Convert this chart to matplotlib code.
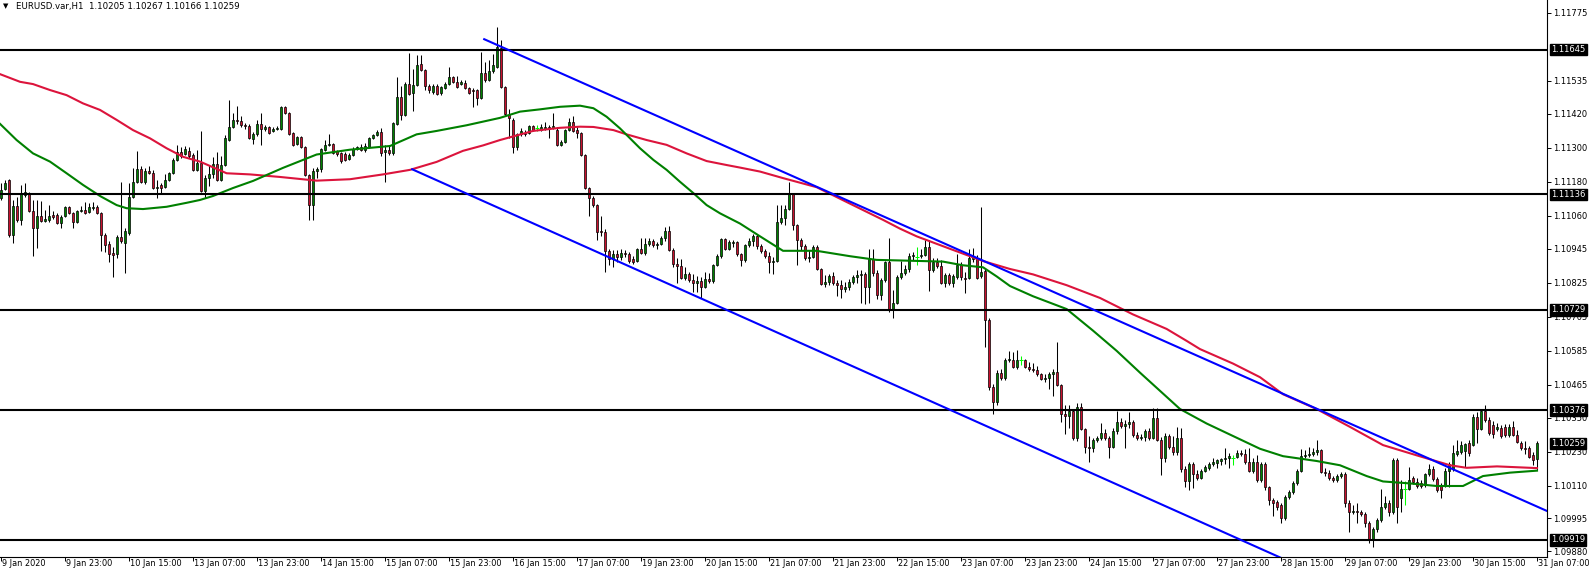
import numpy as np
import matplotlib
matplotlib.use("Agg")
import matplotlib.pyplot as plt
from matplotlib.transforms import blended_transform_factory, offset_copy

# EURUSD H1 candles (9 Jan 2020 00:00 .. 31 Jan 07:00)
symbol = "EURUSD.var,H1"

opens = [
    1.11123, 1.11155, 1.11186, 1.10993, 1.11095, 1.11046, 1.11134, 1.11141, 1.11077, 1.11017,
    1.11060, 1.11042, 1.11046, 1.11063, 1.11063, 1.11035, 1.11060, 1.11091, 1.11070, 1.11039,
    1.11077, 1.11081, 1.11074, 1.11088, 1.11091, 1.11070, 1.10993, 1.10961, 1.10929, 1.10926,
    1.10986, 1.10965, 1.11000, 1.11127, 1.11179, 1.11225, 1.11179, 1.11218, 1.11211, 1.11158,
    1.11169, 1.11162, 1.11186, 1.11211, 1.11257, 1.11285, 1.11278, 1.11288, 1.11274, 1.11222,
    1.11246, 1.11148, 1.11193, 1.11208, 1.11243, 1.11186, 1.11239, 1.11327, 1.11373, 1.11398,
    1.11394, 1.11380, 1.11376, 1.11331, 1.11348, 1.11384, 1.11366, 1.11373, 1.11359, 1.11366,
    1.11366, 1.11443, 1.11422, 1.11352, 1.11313, 1.11338, 1.11303, 1.11204, 1.11098, 1.11218,
    1.11225, 1.11292, 1.11310, 1.11313, 1.11288, 1.11281, 1.11278, 1.11260, 1.11274, 1.11296,
    1.11303, 1.11292, 1.11303, 1.11334, 1.11345, 1.11355, 1.11285, 1.11292, 1.11281, 1.11384,
    1.11479, 1.11415, 1.11524, 1.11493, 1.11521, 1.11595, 1.11574, 1.11517, 1.11496, 1.11517,
    1.11493, 1.11510, 1.11524, 1.11549, 1.11531, 1.11524, 1.11528, 1.11510, 1.11503, 1.11503,
    1.11475, 1.11563, 1.11538, 1.11570, 1.11584, 1.11651, 1.11514, 1.11415, 1.11398, 1.11303,
    1.11348, 1.11352, 1.11352, 1.11376, 1.11369, 1.11362, 1.11366, 1.11373, 1.11369, 1.11362,
    1.11310, 1.11320, 1.11362, 1.11391, 1.11362, 1.11352, 1.11274, 1.11158, 1.11123, 1.11098,
    1.11007, 1.11003, 1.10936, 1.10908, 1.10926, 1.10915, 1.10929, 1.10926, 1.10908, 1.10901,
    1.10944, 1.10929, 1.10961, 1.10972, 1.10958, 1.10961, 1.10982, 1.11007, 1.10940, 1.10891,
    1.10884, 1.10841, 1.10856, 1.10834, 1.10824, 1.10831, 1.10810, 1.10838, 1.10831, 1.10887,
    1.10919, 1.10979, 1.10944, 1.10965, 1.10968, 1.10926, 1.10905, 1.10958, 1.10972, 1.10989,
    1.10954, 1.10936, 1.10919, 1.10898, 1.10901, 1.11039, 1.11053, 1.11084, 1.11137, 1.11028,
    1.10975, 1.10954, 1.10912, 1.10915, 1.10951, 1.10873, 1.10820, 1.10827, 1.10848, 1.10824,
    1.10817, 1.10803, 1.10810, 1.10827, 1.10845, 1.10852, 1.10856, 1.10810, 1.10908, 1.10859,
    1.10782, 1.10834, 1.10898, 1.10732, 1.10753, 1.10845, 1.10859, 1.10873, 1.10919, 1.10915,
    1.10919, 1.10922, 1.10951, 1.10870, 1.10898, 1.10884, 1.10824, 1.10852, 1.10824, 1.10845,
    1.10887, 1.10841, 1.10841, 1.10908, 1.10912, 1.10848, 1.10866, 1.10694, 1.10458, 1.10405,
    1.10507, 1.10489, 1.10553, 1.10553, 1.10528, 1.10553, 1.10553, 1.10528, 1.10521, 1.10518,
    1.10504, 1.10486, 1.10489, 1.10504, 1.10511, 1.10465, 1.10363, 1.10356, 1.10373, 1.10278,
    1.10387, 1.10310, 1.10247, 1.10243, 1.10271, 1.10278, 1.10296, 1.10278, 1.10247, 1.10303,
    1.10335, 1.10320, 1.10328, 1.10335, 1.10289, 1.10278, 1.10282, 1.10303, 1.10278, 1.10349,
    1.10271, 1.10208, 1.10285, 1.10247, 1.10229, 1.10278, 1.10169, 1.10127, 1.10187, 1.10152,
    1.10137, 1.10162, 1.10173, 1.10187, 1.10190, 1.10197, 1.10204, 1.10208, 1.10208, 1.10211,
    1.10225, 1.10222, 1.10194, 1.10162, 1.10194, 1.10130, 1.10187, 1.10106, 1.10060, 1.10053,
    1.10042, 1.09997, 1.10071, 1.10088, 1.10120, 1.10162, 1.10215, 1.10218, 1.10222, 1.10229,
    1.10236, 1.10159, 1.10155, 1.10137, 1.10130, 1.10145, 1.10152, 1.10049, 1.10018, 1.10021,
    1.10018, 1.10011, 1.09979, 1.09919, 1.09958, 1.09990, 1.10035, 1.10049, 1.10018, 1.10201,
    1.10067, 1.10099, 1.10099, 1.10137, 1.10123, 1.10120, 1.10113, 1.10152, 1.10169, 1.10134,
    1.10113, 1.10113, 1.10162, 1.10169, 1.10222, 1.10229, 1.10232, 1.10261, 1.10254, 1.10352,
    1.10310, 1.10373, 1.10342, 1.10324, 1.10310, 1.10313, 1.10317, 1.10289, 1.10317, 1.10289,
    1.10261, 1.10243, 1.10243, 1.10218, 1.10205,
]
highs = [
    1.11176, 1.11186, 1.11190, 1.11116, 1.11127, 1.11169, 1.11176, 1.11144, 1.11116, 1.11116,
    1.11112, 1.11081, 1.11098, 1.11077, 1.11070, 1.11063, 1.11095, 1.11095, 1.11074, 1.11081,
    1.11095, 1.11109, 1.11105, 1.11109, 1.11098, 1.11074, 1.11000, 1.10972, 1.10951, 1.10993,
    1.11179, 1.11017, 1.11176, 1.11229, 1.11288, 1.11236, 1.11229, 1.11236, 1.11222, 1.11186,
    1.11176, 1.11208, 1.11215, 1.11264, 1.11310, 1.11303, 1.11306, 1.11303, 1.11281, 1.11292,
    1.11359, 1.11204, 1.11239, 1.11267, 1.11285, 1.11271, 1.11345, 1.11468, 1.11422, 1.11447,
    1.11412, 1.11387, 1.11384, 1.11355, 1.11398, 1.11422, 1.11380, 1.11376, 1.11373, 1.11376,
    1.11447, 1.11447, 1.11426, 1.11355, 1.11341, 1.11341, 1.11306, 1.11208, 1.11229, 1.11232,
    1.11299, 1.11327, 1.11348, 1.11317, 1.11292, 1.11285, 1.11285, 1.11281, 1.11303, 1.11306,
    1.11313, 1.11317, 1.11338, 1.11348, 1.11362, 1.11369, 1.11310, 1.11306, 1.11391, 1.11549,
    1.11517, 1.11531, 1.11633, 1.11577, 1.11626, 1.11626, 1.11577, 1.11524, 1.11524, 1.11524,
    1.11517, 1.11531, 1.11584, 1.11552, 1.11552, 1.11538, 1.11538, 1.11514, 1.11510, 1.11507,
    1.11637, 1.11602, 1.11609, 1.11630, 1.11725, 1.11679, 1.11517, 1.11436, 1.11405, 1.11352,
    1.11369, 1.11362, 1.11380, 1.11380, 1.11380, 1.11384, 1.11391, 1.11380, 1.11422, 1.11373,
    1.11327, 1.11366, 1.11405, 1.11412, 1.11373, 1.11355, 1.11278, 1.11162, 1.11130, 1.11102,
    1.11060, 1.11014, 1.10944, 1.10940, 1.10940, 1.10944, 1.10940, 1.10933, 1.10919, 1.10947,
    1.10982, 1.10982, 1.10982, 1.10979, 1.10968, 1.10989, 1.11021, 1.11024, 1.10947, 1.10912,
    1.10908, 1.10880, 1.10863, 1.10856, 1.10849, 1.10845, 1.10863, 1.10859, 1.10891, 1.10926,
    1.10982, 1.10982, 1.10975, 1.10975, 1.10972, 1.10929, 1.10961, 1.10982, 1.10996, 1.10996,
    1.10961, 1.10944, 1.10933, 1.10915, 1.11098, 1.11098, 1.11098, 1.11179, 1.11141, 1.11032,
    1.10982, 1.10961, 1.10940, 1.10958, 1.10958, 1.10877, 1.10852, 1.10856, 1.10863, 1.10834,
    1.10834, 1.10827, 1.10838, 1.10852, 1.10870, 1.10870, 1.10863, 1.10944, 1.10944, 1.10870,
    1.10841, 1.10901, 1.10982, 1.10799, 1.10852, 1.10901, 1.10887, 1.10929, 1.10933, 1.10951,
    1.10944, 1.10975, 1.10975, 1.10912, 1.10912, 1.10905, 1.10859, 1.10859, 1.10856, 1.10926,
    1.10898, 1.10863, 1.10944, 1.10947, 1.10922, 1.11091, 1.10877, 1.10701, 1.10468, 1.10518,
    1.10521, 1.10560, 1.10585, 1.10581, 1.10588, 1.10567, 1.10556, 1.10546, 1.10542, 1.10532,
    1.10507, 1.10504, 1.10511, 1.10521, 1.10616, 1.10468, 1.10394, 1.10394, 1.10380, 1.10401,
    1.10401, 1.10313, 1.10285, 1.10278, 1.10285, 1.10331, 1.10310, 1.10285, 1.10313, 1.10373,
    1.10349, 1.10342, 1.10370, 1.10342, 1.10299, 1.10292, 1.10310, 1.10313, 1.10384, 1.10384,
    1.10282, 1.10296, 1.10292, 1.10285, 1.10317, 1.10313, 1.10180, 1.10194, 1.10194, 1.10166,
    1.10169, 1.10183, 1.10194, 1.10208, 1.10204, 1.10208, 1.10243, 1.10225, 1.10218, 1.10236,
    1.10236, 1.10240, 1.10243, 1.10208, 1.10218, 1.10194, 1.10194, 1.10109, 1.10067, 1.10060,
    1.10049, 1.10078, 1.10095, 1.10127, 1.10169, 1.10240, 1.10236, 1.10247, 1.10243, 1.10271,
    1.10240, 1.10173, 1.10166, 1.10145, 1.10152, 1.10159, 1.10159, 1.10060, 1.10042, 1.10049,
    1.10025, 1.10018, 1.09986, 1.09965, 1.09997, 1.10099, 1.10074, 1.10060, 1.10208, 1.10208,
    1.10130, 1.10127, 1.10176, 1.10145, 1.10137, 1.10130, 1.10155, 1.10187, 1.10180, 1.10141,
    1.10120, 1.10173, 1.10194, 1.10254, 1.10271, 1.10268, 1.10261, 1.10271, 1.10363, 1.10370,
    1.10380, 1.10394, 1.10352, 1.10338, 1.10331, 1.10324, 1.10328, 1.10328, 1.10338, 1.10306,
    1.10268, 1.10268, 1.10250, 1.10229, 1.10267,
]
lows = [
    1.11116, 1.11151, 1.10986, 1.10965, 1.11039, 1.11028, 1.11127, 1.11074, 1.10919, 1.10947,
    1.11039, 1.11039, 1.11039, 1.11049, 1.11032, 1.11017, 1.11056, 1.11067, 1.11017, 1.11035,
    1.11074, 1.11067, 1.11070, 1.11081, 1.11067, 1.10936, 1.10933, 1.10898, 1.10845, 1.10912,
    1.10965, 1.10859, 1.10993, 1.11123, 1.11176, 1.11176, 1.11172, 1.11208, 1.11155, 1.11123,
    1.11141, 1.11158, 1.11183, 1.11208, 1.11253, 1.11264, 1.11274, 1.11264, 1.11218, 1.11218,
    1.11144, 1.11123, 1.11165, 1.11193, 1.11183, 1.11183, 1.11236, 1.11324, 1.11369, 1.11384,
    1.11373, 1.11366, 1.11331, 1.11313, 1.11341, 1.11310, 1.11359, 1.11348, 1.11355, 1.11362,
    1.11362, 1.11419, 1.11345, 1.11306, 1.11310, 1.11299, 1.11200, 1.11046, 1.11046, 1.11193,
    1.11215, 1.11288, 1.11306, 1.11278, 1.11271, 1.11246, 1.11253, 1.11257, 1.11271, 1.11292,
    1.11288, 1.11285, 1.11299, 1.11331, 1.11341, 1.11271, 1.11179, 1.11274, 1.11274, 1.11380,
    1.11398, 1.11412, 1.11486, 1.11429, 1.11517, 1.11570, 1.11503, 1.11493, 1.11489, 1.11486,
    1.11486, 1.11507, 1.11521, 1.11528, 1.11510, 1.11521, 1.11507, 1.11489, 1.11443, 1.11450,
    1.11472, 1.11531, 1.11535, 1.11563, 1.11580, 1.11510, 1.11412, 1.11334, 1.11281, 1.11292,
    1.11341, 1.11341, 1.11348, 1.11359, 1.11359, 1.11359, 1.11362, 1.11334, 1.11366, 1.11306,
    1.11306, 1.11317, 1.11359, 1.11355, 1.11334, 1.11271, 1.11155, 1.11060, 1.11091, 1.10975,
    1.10989, 1.10863, 1.10887, 1.10880, 1.10898, 1.10905, 1.10915, 1.10894, 1.10891, 1.10898,
    1.10926, 1.10922, 1.10954, 1.10951, 1.10944, 1.10958, 1.10972, 1.10936, 1.10880, 1.10824,
    1.10838, 1.10834, 1.10827, 1.10792, 1.10792, 1.10771, 1.10806, 1.10824, 1.10824, 1.10884,
    1.10912, 1.10940, 1.10940, 1.10951, 1.10919, 1.10884, 1.10898, 1.10951, 1.10954, 1.10944,
    1.10929, 1.10912, 1.10859, 1.10856, 1.10898, 1.11032, 1.11028, 1.11081, 1.11010, 1.10887,
    1.10940, 1.10905, 1.10898, 1.10912, 1.10870, 1.10817, 1.10810, 1.10817, 1.10817, 1.10778,
    1.10771, 1.10792, 1.10799, 1.10820, 1.10824, 1.10753, 1.10750, 1.10753, 1.10848, 1.10768,
    1.10764, 1.10827, 1.10722, 1.10701, 1.10750, 1.10838, 1.10852, 1.10863, 1.10905, 1.10887,
    1.10912, 1.10919, 1.10796, 1.10863, 1.10877, 1.10820, 1.10810, 1.10817, 1.10810, 1.10838,
    1.10834, 1.10789, 1.10838, 1.10898, 1.10838, 1.10841, 1.10599, 1.10447, 1.10363, 1.10394,
    1.10482, 1.10482, 1.10546, 1.10525, 1.10521, 1.10535, 1.10525, 1.10514, 1.10511, 1.10497,
    1.10482, 1.10475, 1.10451, 1.10426, 1.10461, 1.10335, 1.10292, 1.10313, 1.10271, 1.10268,
    1.10306, 1.10225, 1.10194, 1.10229, 1.10264, 1.10271, 1.10271, 1.10208, 1.10243, 1.10292,
    1.10313, 1.10243, 1.10313, 1.10282, 1.10271, 1.10271, 1.10268, 1.10271, 1.10275, 1.10268,
    1.10148, 1.10194, 1.10240, 1.10218, 1.10218, 1.10159, 1.10106, 1.10095, 1.10102, 1.10130,
    1.10134, 1.10159, 1.10166, 1.10180, 1.10173, 1.10183, 1.10187, 1.10173, 1.10183, 1.10208,
    1.10215, 1.10187, 1.10159, 1.10155, 1.10123, 1.10123, 1.10095, 1.10042, 1.10003, 1.10025,
    1.09979, 1.09990, 1.10064, 1.10081, 1.10113, 1.10159, 1.10208, 1.10211, 1.10215, 1.10218,
    1.10155, 1.10145, 1.10130, 1.10123, 1.10123, 1.10137, 1.10035, 1.09947, 1.10011, 1.09979,
    1.10004, 1.09965, 1.09909, 1.09895, 1.09947, 1.09983, 1.10028, 1.10004, 1.10011, 1.09979,
    1.10018, 1.10042, 1.10095, 1.10116, 1.10102, 1.10102, 1.10106, 1.10145, 1.10127, 1.10088,
    1.10067, 1.10106, 1.10106, 1.10162, 1.10215, 1.10222, 1.10176, 1.10215, 1.10250, 1.10261,
    1.10306, 1.10335, 1.10289, 1.10278, 1.10303, 1.10278, 1.10282, 1.10282, 1.10285, 1.10261,
    1.10236, 1.10222, 1.10208, 1.10183, 1.10166,
]
closes = [
    1.11151, 1.11176, 1.10993, 1.11095, 1.11046, 1.11137, 1.11144, 1.11077, 1.11017, 1.11060,
    1.11042, 1.11049, 1.11060, 1.11056, 1.11035, 1.11056, 1.11091, 1.11070, 1.11039, 1.11077,
    1.11081, 1.11070, 1.11091, 1.11091, 1.11070, 1.10993, 1.10958, 1.10926, 1.10922, 1.10986,
    1.10972, 1.11007, 1.11127, 1.11179, 1.11225, 1.11179, 1.11218, 1.11211, 1.11158, 1.11162,
    1.11158, 1.11186, 1.11211, 1.11257, 1.11285, 1.11271, 1.11296, 1.11271, 1.11222, 1.11246,
    1.11148, 1.11193, 1.11208, 1.11243, 1.11186, 1.11239, 1.11334, 1.11373, 1.11398, 1.11394,
    1.11380, 1.11376, 1.11334, 1.11348, 1.11384, 1.11366, 1.11373, 1.11352, 1.11366, 1.11369,
    1.11443, 1.11422, 1.11348, 1.11310, 1.11338, 1.11303, 1.11204, 1.11098, 1.11218, 1.11225,
    1.11296, 1.11310, 1.11313, 1.11281, 1.11278, 1.11253, 1.11257, 1.11274, 1.11296, 1.11303,
    1.11292, 1.11306, 1.11334, 1.11345, 1.11355, 1.11281, 1.11292, 1.11281, 1.11387, 1.11479,
    1.11415, 1.11524, 1.11489, 1.11521, 1.11591, 1.11574, 1.11517, 1.11503, 1.11517, 1.11489,
    1.11514, 1.11524, 1.11549, 1.11531, 1.11514, 1.11531, 1.11510, 1.11493, 1.11500, 1.11475,
    1.11563, 1.11538, 1.11570, 1.11591, 1.11655, 1.11514, 1.11419, 1.11405, 1.11303, 1.11348,
    1.11359, 1.11348, 1.11376, 1.11362, 1.11369, 1.11373, 1.11373, 1.11366, 1.11376, 1.11310,
    1.11320, 1.11362, 1.11391, 1.11359, 1.11352, 1.11274, 1.11158, 1.11123, 1.11098, 1.11003,
    1.11003, 1.10936, 1.10908, 1.10926, 1.10915, 1.10929, 1.10926, 1.10901, 1.10898, 1.10944,
    1.10929, 1.10961, 1.10972, 1.10958, 1.10961, 1.10982, 1.11007, 1.10940, 1.10891, 1.10884,
    1.10841, 1.10856, 1.10834, 1.10824, 1.10831, 1.10810, 1.10838, 1.10831, 1.10887, 1.10919,
    1.10979, 1.10944, 1.10968, 1.10968, 1.10926, 1.10905, 1.10958, 1.10972, 1.10989, 1.10954,
    1.10936, 1.10919, 1.10898, 1.10901, 1.11039, 1.11053, 1.11084, 1.11137, 1.11028, 1.10975,
    1.10954, 1.10912, 1.10915, 1.10951, 1.10873, 1.10820, 1.10827, 1.10848, 1.10824, 1.10817,
    1.10803, 1.10810, 1.10827, 1.10845, 1.10852, 1.10856, 1.10810, 1.10908, 1.10859, 1.10782,
    1.10834, 1.10898, 1.10732, 1.10753, 1.10845, 1.10859, 1.10873, 1.10919, 1.10922, 1.10915,
    1.10922, 1.10951, 1.10870, 1.10898, 1.10884, 1.10824, 1.10852, 1.10824, 1.10848, 1.10887,
    1.10845, 1.10838, 1.10912, 1.10919, 1.10841, 1.10863, 1.10694, 1.10458, 1.10405, 1.10507,
    1.10489, 1.10553, 1.10556, 1.10528, 1.10553, 1.10553, 1.10528, 1.10521, 1.10518, 1.10504,
    1.10486, 1.10489, 1.10504, 1.10511, 1.10465, 1.10363, 1.10356, 1.10373, 1.10278, 1.10387,
    1.10310, 1.10247, 1.10243, 1.10271, 1.10278, 1.10296, 1.10278, 1.10247, 1.10303, 1.10335,
    1.10320, 1.10328, 1.10335, 1.10289, 1.10278, 1.10282, 1.10303, 1.10278, 1.10349, 1.10271,
    1.10208, 1.10285, 1.10247, 1.10229, 1.10278, 1.10169, 1.10127, 1.10187, 1.10152, 1.10137,
    1.10162, 1.10176, 1.10187, 1.10194, 1.10201, 1.10204, 1.10208, 1.10215, 1.10208, 1.10225,
    1.10222, 1.10194, 1.10162, 1.10194, 1.10130, 1.10187, 1.10106, 1.10060, 1.10049, 1.10035,
    1.09997, 1.10071, 1.10088, 1.10120, 1.10162, 1.10215, 1.10218, 1.10222, 1.10229, 1.10236,
    1.10159, 1.10155, 1.10137, 1.10130, 1.10145, 1.10152, 1.10049, 1.10018, 1.10021, 1.10018,
    1.10011, 1.09979, 1.09919, 1.09958, 1.09990, 1.10035, 1.10049, 1.10018, 1.10201, 1.10035,
    1.10099, 1.10099, 1.10130, 1.10123, 1.10109, 1.10109, 1.10152, 1.10169, 1.10134, 1.10095,
    1.10095, 1.10162, 1.10187, 1.10225, 1.10232, 1.10254, 1.10257, 1.10225, 1.10352, 1.10310,
    1.10373, 1.10342, 1.10296, 1.10292, 1.10317, 1.10285, 1.10289, 1.10317, 1.10289, 1.10264,
    1.10243, 1.10240, 1.10211, 1.10201, 1.10259,
]

# one time label every 16 bars
bars_per_label = 16
time_labels = ["9 Jan 2020", "9 Jan 23:00", "10 Jan 15:00", "13 Jan 07:00", "13 Jan 23:00",
               "14 Jan 15:00", "15 Jan 07:00", "15 Jan 23:00", "16 Jan 15:00", "17 Jan 07:00",
               "19 Jan 23:00", "20 Jan 15:00", "21 Jan 07:00", "21 Jan 23:00", "22 Jan 15:00",
               "23 Jan 07:00", "23 Jan 23:00", "24 Jan 15:00", "27 Jan 07:00", "27 Jan 23:00",
               "28 Jan 15:00", "29 Jan 07:00", "29 Jan 23:00", "30 Jan 15:00", "31 Jan 07:00"]

price_ticks = [1.11775, 1.11535, 1.11420, 1.11300, 1.11180, 1.11060, 1.10945, 1.10825,
               1.10705, 1.10585, 1.10465, 1.10350, 1.10230, 1.10110, 1.09995, 1.09880]

# horizontal support / resistance lines
levels = [1.11645, 1.11136, 1.10729, 1.10376, 1.09919]

# moving averages (slow = red, fast = green), sampled along the lines
ma_slow_bars = [-0.25, 4.75, 8, 12.25, 16.4, 20.5, 24.75, 28.9, 33, 37.25, 41.4, 45.5, 49.75, 53,
                56.4, 62.25, 69.75, 78.9, 87.25, 95.5, 102.25, 108.9, 115.5, 120.5, 124.75, 133,
                139.75, 144.75, 148.1, 153.1, 156.4, 161.4, 166.4, 171.4, 176.4, 181.4, 184.75,
                189.75, 195.5, 203.9, 212.25, 220.5, 224.75, 228.9, 237.25, 245.5, 252.25, 258,
                266.4, 274.75, 283, 291.4, 296.4, 299.75, 308, 314.75, 320.5, 328.9, 337.25,
                345.5, 353.9, 362.25, 366.4, 374, 384]
ma_slow = [1.11559, 1.11532, 1.11524, 1.11503, 1.11485, 1.11456, 1.11433, 1.11398, 1.11362,
           1.11333, 1.11298, 1.11268, 1.11251, 1.11231, 1.11210, 1.11206, 1.11197, 1.11184,
           1.11189, 1.11206, 1.11222, 1.11250, 1.11289, 1.11308, 1.11327, 1.11359,
           1.11370, 1.11374, 1.11373, 1.11362, 1.11347, 1.11327, 1.11310, 1.11280, 1.11253,
           1.11239, 1.11230, 1.11216, 1.11193, 1.11161, 1.11103, 1.11046, 1.11015, 1.10988,
           1.10944, 1.10901, 1.10873, 1.10854, 1.10816, 1.10771, 1.10713, 1.10662, 1.10620,
           1.10591, 1.10540, 1.10492, 1.10432, 1.10380, 1.10317, 1.10253, 1.10217, 1.10182,
           1.10173, 1.10178, 1.10172]
ma_fast_bars = [-0.25, 3.9, 8, 12.25, 16.4, 20.5, 24.75, 28.9, 31.4, 35.5, 41.4, 46.4, 49.75, 53,
                58, 63, 70.5, 78.9, 87.25, 97.25, 103.9, 108.9, 116.4, 124.75, 129.75, 134.75,
                139.75, 144.75, 148.1, 151.4, 154.75, 156.4, 159.75, 163.1, 166.4, 169.75, 173.1,
                176.4, 179.75, 184.75, 189.75, 195.5, 203.9, 212.25, 218.9, 224.75, 235.5, 240.5,
                245.5, 248.9, 252.25, 258, 266.4, 273, 278.9, 284.75, 289.75, 294.75, 301.4, 308,
                314.75, 320.5, 328.9, 334.75, 341.4, 345.5, 352.25, 358.9, 365.5, 370.5, 377.25,
                384]
ma_fast = [1.11384, 1.11327, 1.11280, 1.11251, 1.11210, 1.11169, 1.11130, 1.11098, 1.11087,
           1.11084, 1.11092, 1.11106, 1.11116, 1.11130, 1.11158, 1.11183, 1.11229, 1.11276,
           1.11293, 1.11306, 1.11347, 1.11359, 1.11379, 1.11405, 1.11427, 1.11435,
           1.11444, 1.11448, 1.11439, 1.11409, 1.11368, 1.11345, 1.11298, 1.11257, 1.11222,
           1.11180, 1.11140, 1.11098, 1.11069, 1.11033, 1.10988, 1.10937, 1.10937, 1.10918,
           1.10905, 1.10903, 1.10899, 1.10886, 1.10879, 1.10847, 1.10813, 1.10777, 1.10732,
           1.10656, 1.10585, 1.10508, 1.10444, 1.10380, 1.10329, 1.10285, 1.10240, 1.10214,
           1.10197, 1.10182, 1.10144, 1.10125, 1.10118, 1.10109, 1.10109, 1.10144, 1.10156,
           1.10163]

# descending channel (two anchor points each)
channel_top_bars = [120.8, 386.5]
channel_top = [1.11682, 1.10021]
channel_bottom_bars = [102.8, 330.0]
channel_bottom = [1.11224, 1.09793]

W, H = 1590, 570
plt.rcParams['font.family'] = ['DejaVu Sans']
fig = plt.figure(figsize=(W / 100, H / 100), dpi=100, facecolor='white')
ax = fig.add_axes([0, 13 / H, 1547 / W, 557 / H])

o = np.array(opens)
h = np.array(highs)
l = np.array(lows)
c = np.array(closes)
h = np.maximum(h, np.maximum(o, c))
l = np.minimum(l, np.minimum(o, c))
x = np.arange(len(c))
up = c > o
dn = c < o
flat = c == o

# candles
ax.vlines(x[~flat], l[~flat], h[~flat], color='black', lw=0.75, zorder=2)
ax.vlines(x[flat], l[flat], h[flat], color='#00ff00', lw=0.75, zorder=2)
ax.hlines(o[flat], x[flat] - 0.4, x[flat] + 0.4, color='#00ff00', lw=0.75, zorder=2)
ax.bar(x[up], c[up] - o[up], bottom=o[up], width=0.72, color='#008000',
       edgecolor='black', linewidth=0.5, zorder=2.1)
ax.bar(x[dn], o[dn] - c[dn], bottom=c[dn], width=0.72, color='#c8102e',
       edgecolor='black', linewidth=0.5, zorder=2.1)

# indicators and objects
ax.plot(ma_slow_bars, ma_slow, color='#dc143c', lw=1.5, zorder=3)
ax.plot(ma_fast_bars, ma_fast, color='#008000', lw=1.5, zorder=3)
for lvl in levels:
    ax.axhline(lvl, color='black', lw=1.5, zorder=4)
ax.plot(channel_top_bars, channel_top, color='#0000ff', lw=1.5, zorder=4)
ax.plot(channel_bottom_bars, channel_bottom, color='#0000ff', lw=1.5, zorder=4)

ax.set_xlim(-0.25, 386.5)
ax.set_ylim(1.09859, 1.11820)

for s in ['top', 'left']:
    ax.spines[s].set_visible(False)
for s in ['right', 'bottom']:
    ax.spines[s].set_linewidth(0.8)

# price axis
ax.yaxis.tick_right()
ax.set_yticks(price_ticks)
ax.set_yticklabels([f"{p:.5f}" for p in price_ticks])
ax.tick_params(axis='y', direction='out', length=3, width=0.7, pad=1.5, labelsize=6.0)

# time axis: labels start right at the tick
ax.set_xticks(np.arange(len(time_labels)) * bars_per_label)
ax.tick_params(axis='x', direction='out', length=3, width=0.7, labelbottom=False)
tr = offset_copy(blended_transform_factory(ax.transData, ax.transAxes), fig=fig, x=1, y=-2, units='dots')
for i, lab in enumerate(time_labels):
    ax.text(i * bars_per_label, 0, lab, transform=tr, ha='left', va='top', fontsize=5.9)

# boxed price labels for the lines and the last price
trb = offset_copy(blended_transform_factory(ax.transAxes, ax.transData), fig=fig, x=4, y=0, units='dots')
for p in levels + [c[-1]]:
    ax.text(1, p, f"{p:.5f}", transform=trb, ha='left', va='center', color='white', fontsize=6.0,
            zorder=5, bbox=dict(boxstyle='square,pad=0.15', fc='black', ec='black'))

# header
fig.text(3 / W, 1 - 6 / H, '\u25bc', fontsize=5, va='center', ha='left')
fig.text(16 / W, 1 - 7 / H, f"{symbol}  {o[-1]:.5f} {h[-1]:.5f} {l[-1]:.5f} {c[-1]:.5f}",
         fontsize=6.2, va='center', ha='left')

fig.savefig('out.png', dpi=100)
